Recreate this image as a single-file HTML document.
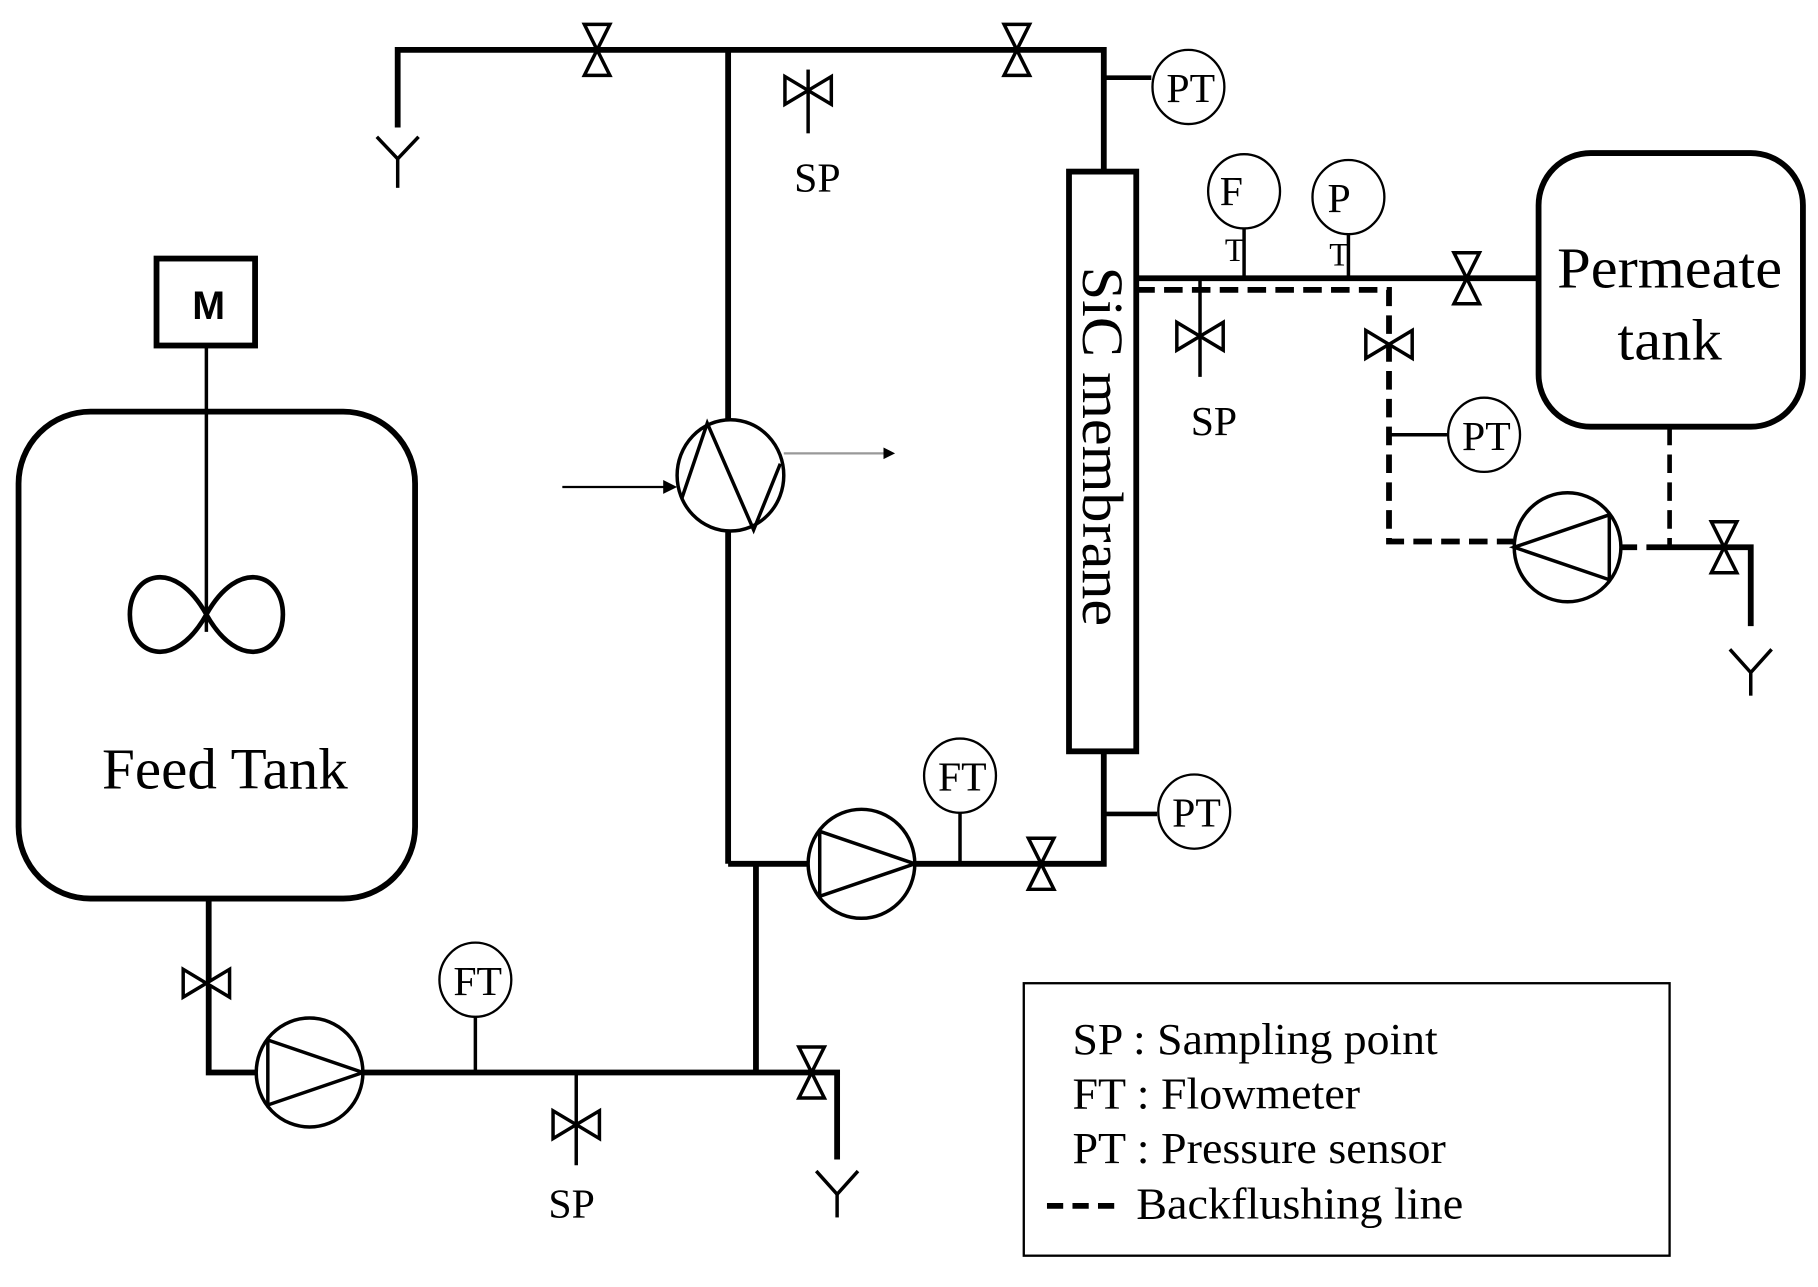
<!DOCTYPE html>
<html><head><meta charset="utf-8"><style>
html,body{margin:0;padding:0;background:#fff;}
svg{display:block;}
text{font-family:"Liberation Serif",serif;fill:#000;}
</style></head><body>
<svg width="1818" height="1287" viewBox="0 0 1568 1110" preserveAspectRatio="none" xmlns="http://www.w3.org/2000/svg">
<defs>
<g id="vv"><polygon points="-11,-22 11,-22 0,0" fill="#fff" stroke="#000" stroke-width="3"/><polygon points="-11,22 11,22 0,0" fill="#fff" stroke="#000" stroke-width="3"/></g>
<g id="hv"><polygon points="-20,-12 -20,12 0,0" fill="#fff" stroke="#000" stroke-width="3"/><polygon points="20,-12 20,12 0,0" fill="#fff" stroke="#000" stroke-width="3"/></g>
<g id="pr"><ellipse cx="0" cy="0" rx="46" ry="47" fill="#fff" stroke="#000" stroke-width="3"/><polyline points="-36,-28 46,0 -36,28 -36,-28" fill="none" stroke="#000" stroke-width="3"/></g>
</defs>
<g fill="none" stroke="#000" stroke-width="5">
<polyline points="343,110 343,43 952,43 952,148"/>
<line x1="628" y1="43" x2="628" y2="745"/>
<polyline points="628,745 952,745 952,648"/>
<line x1="652" y1="745" x2="652" y2="925"/>
<polyline points="180,775 180,925 722,925 722,1000"/>
<line x1="952" y1="67" x2="993" y2="67" stroke-width="4"/>
<line x1="952" y1="702" x2="998" y2="702" stroke-width="4"/>
<line x1="980" y1="240" x2="1327" y2="240"/>
<polyline points="980,250 1198,250 1198,467 1305,467" stroke-dasharray="16,8"/>
<line x1="1440" y1="368" x2="1440" y2="472" stroke-dasharray="16,8" stroke-width="4"/>
<line x1="1398" y1="472" x2="1420" y2="472" stroke-dasharray="14,8"/>
<polyline points="1420,472 1510,472 1510,540"/>
<line x1="1198" y1="375" x2="1248" y2="375" stroke-width="3"/>
</g>
<g stroke="#000" stroke-width="3" fill="none">
<line x1="697" y1="60" x2="697" y2="115"/>
<line x1="497" y1="925" x2="497" y2="1005"/>
<line x1="1035" y1="240" x2="1035" y2="325"/>
<line x1="828" y1="700" x2="828" y2="745"/>
<line x1="410" y1="876" x2="410" y2="925"/>
<line x1="1073" y1="196" x2="1073" y2="240"/>
<line x1="1163" y1="201" x2="1163" y2="240"/>
<line x1="178" y1="298" x2="178" y2="545"/>
<polyline points="325,118 343,137 361,118"/><line x1="343" y1="137" x2="343" y2="162"/>
<polyline points="704,1010 722,1030 740,1010"/><line x1="722" y1="1030" x2="722" y2="1050"/>
<polyline points="1492,560 1510,580 1528,560"/><line x1="1510" y1="580" x2="1510" y2="600"/>
</g>
<rect x="16" y="355" width="342" height="420" rx="62" fill="none" stroke="#000" stroke-width="5"/>
<rect x="135" y="223" width="85" height="75" fill="#fff" stroke="#000" stroke-width="5"/>
<text x="180" y="275" font-weight="bold" font-size="34" text-anchor="middle" style="font-family:'Liberation Sans',sans-serif">M</text>
<path d="M178,530 C150,480 112,495 112,530 C112,565 150,580 178,530 C206,480 244,495 244,530 C244,565 206,580 178,530 Z" fill="none" stroke="#000" stroke-width="4"/>
<text x="88" y="680" font-size="50" textLength="212" lengthAdjust="spacingAndGlyphs">Feed Tank</text>
<rect x="1327" y="132" width="228" height="236" rx="45" fill="none" stroke="#000" stroke-width="5"/>
<text x="1343" y="248" font-size="50" textLength="194" lengthAdjust="spacingAndGlyphs">Permeate</text>
<text x="1395" y="310" font-size="50" textLength="90" lengthAdjust="spacingAndGlyphs">tank</text>
<rect x="922" y="148" width="58" height="500" fill="#fff" stroke="#000" stroke-width="5"/>
<text transform="translate(934,230) rotate(90)" font-size="50" textLength="310" lengthAdjust="spacingAndGlyphs">SiC membrane</text>
<ellipse cx="630" cy="410" rx="46" ry="48" fill="#fff" stroke="#000" stroke-width="3"/>
<polyline points="588,430 610,365 650,457 673,400" fill="none" stroke="#000" stroke-width="3"/>
<line x1="485" y1="420" x2="578" y2="420" stroke="#000" stroke-width="2"/>
<polygon points="584,420 572,414 572,426" fill="#000"/>
<line x1="676" y1="391" x2="764" y2="391" stroke="#999" stroke-width="2"/>
<polygon points="772,391 762,386 762,396" fill="#000"/>
<use href="#pr" x="743" y="745"/>
<use href="#pr" x="267" y="925"/>
<g transform="translate(1352,472) scale(-1,1)"><use href="#pr"/></g>
<use href="#vv" x="515" y="43"/>
<use href="#vv" x="877" y="43"/>
<use href="#vv" x="898" y="745"/>
<use href="#vv" x="700" y="925"/>
<use href="#vv" x="1265" y="240"/>
<use href="#vv" x="1487" y="472"/>
<use href="#hv" x="697" y="78"/>
<use href="#hv" x="178" y="848"/>
<use href="#hv" x="497" y="970"/>
<use href="#hv" x="1035" y="290"/>
<use href="#hv" x="1198" y="297"/>
<g fill="#fff" stroke="#000" stroke-width="2">
<ellipse cx="1025" cy="75" rx="31" ry="32"/>
<ellipse cx="1030" cy="700" rx="31" ry="32"/>
<ellipse cx="828" cy="669" rx="31" ry="32"/>
<ellipse cx="410" cy="845" rx="31" ry="32"/>
<ellipse cx="1073" cy="165" rx="31" ry="32"/>
<ellipse cx="1163" cy="170" rx="31" ry="32"/>
<ellipse cx="1280" cy="375" rx="31" ry="32"/>
</g>
<g font-size="36" text-anchor="middle">
<text x="1027" y="88">PT</text>
<text x="1032" y="713">PT</text>
<text x="830" y="682">FT</text>
<text x="412" y="858">FT</text>
<text x="1282" y="388">PT</text>
<text x="1062" y="177">F</text>
<text x="1155" y="183">P</text>
<text x="1065" y="225" font-size="28">T</text>
<text x="1155" y="229" font-size="28">T</text>
<text x="705" y="165">SP</text>
<text x="493" y="1050">SP</text>
<text x="1047" y="375">SP</text>
</g>
<rect x="883" y="848" width="557" height="235" fill="none" stroke="#000" stroke-width="2"/>
<g font-size="38">
<text x="925" y="909" textLength="315" lengthAdjust="spacingAndGlyphs">SP : Sampling point</text>
<text x="925" y="956" textLength="248" lengthAdjust="spacingAndGlyphs">FT : Flowmeter</text>
<text x="925" y="1003" textLength="322" lengthAdjust="spacingAndGlyphs">PT : Pressure sensor</text>
<text x="980" y="1051" textLength="282" lengthAdjust="spacingAndGlyphs">Backflushing line</text>
</g>
<line x1="903" y1="1040" x2="965" y2="1040" stroke="#000" stroke-width="5" stroke-dasharray="14,8"/>
</svg>
</body></html>
